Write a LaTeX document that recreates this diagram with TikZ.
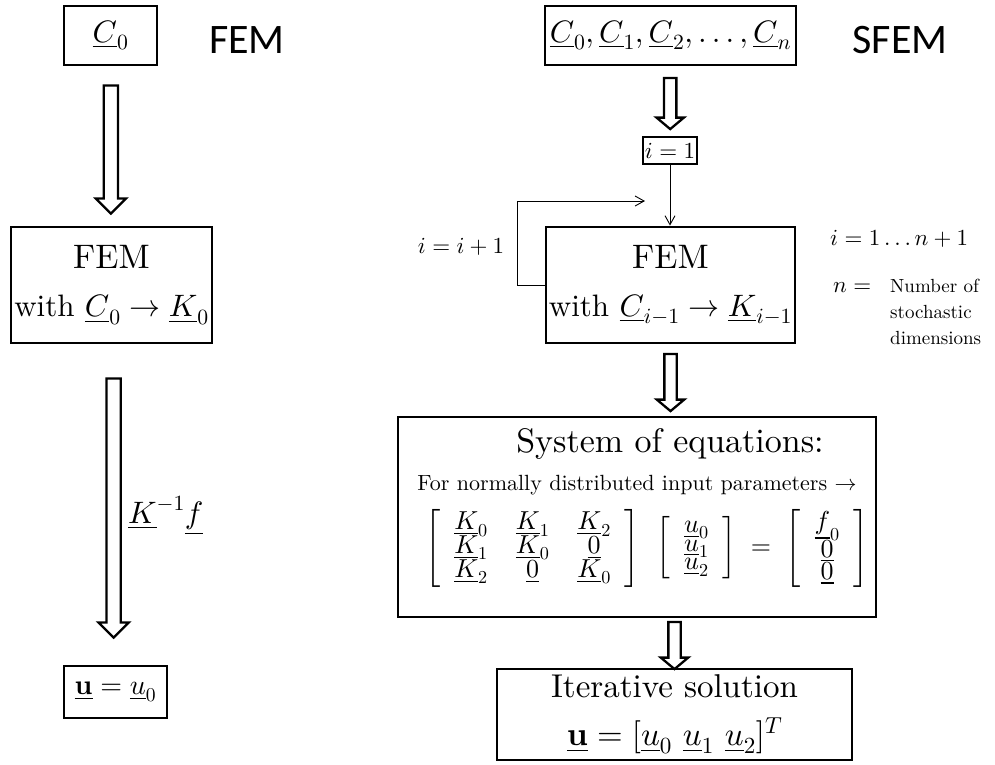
\documentclass[tikz,border=0pt]{standalone}
\usepackage{amsmath,amssymb}
\usepackage[no-math]{fontspec}
\setmainfont{lmroman10-regular.otf}[BoldFont=lmroman10-bold.otf, ItalicFont=lmroman10-italic.otf]
\newfontfamily\calibrifont{Carlito}
% keep the 10pt designs at every size
\DeclareFontShape{OML}{cmm}{m}{it}{<->cmmi10}{}
\DeclareFontShape{OMS}{cmsy}{m}{n}{<->cmsy10}{}
\DeclareFontShape{OT1}{cmr}{m}{n}{<->cmr10}{}
\DeclareFontShape{OT1}{cmr}{bx}{n}{<->cmbx10}{}
\usepackage{tikz}
\usetikzlibrary{arrows.meta,shapes.arrows,calc,positioning}

\begin{document}
\begin{tikzpicture}[x=1pt,y=-1pt,
box/.style={draw, line width=2.8pt, align=center, inner sep=0pt},
bigfont/.style={font=\fontsize{31}{48}\selectfont},
midfont/.style={font=\fontsize{23}{28}\selectfont},
sanslabel/.style={font=\calibrifont\fontsize{42}{50}\selectfont, anchor=base, inner sep=0pt},
fatarrow/.style={single arrow, draw, line width=2.3pt, shape border rotate=270, inner sep=6pt, single arrow head extend=8pt, single arrow tip angle=90},
slimarrow/.style={fatarrow, inner sep=5pt, single arrow head extend=7.5pt, single arrow tip angle=100},
flow/.style={line width=0.9pt, -{Straight Barb[length=9pt,width=10pt]}}]
\useasboundingbox (0,0) rectangle (995,764);

% plain FEM
\node[box, bigfont, minimum width=93pt, minimum height=59pt] (c0) at (110.5,35.5) {$\underline{C}_0$};
\node[sanslabel] (femtitle) at (247,53) {FEM};
\node[box, bigfont, minimum width=201pt, minimum height=116pt] (fem0) at (111.5,285) {{\fontsize{34}{40}\selectfont FEM}\\with $\underline{C}_0\rightarrow\underline{K}_0$};
\node[box, font=\fontsize{28}{34}\selectfont, minimum width=103pt, minimum height=52pt] (u0) at (115.5,692) {$\underline{\mathbf{u}}=\underline{u}_0$};
\path (c0) -- node[fatarrow, minimum height=128pt] (a1) {} (fem0);
\path (fem0) -- node[fatarrow, minimum height=259pt] (a2) {} (u0);
\node[bigfont, anchor=base west, inner sep=0pt] (kinv) at (128,523) {$\underline{K}^{-1}\underline{f}$};

% stochastic FEM
\node[box, bigfont, minimum width=251pt, minimum height=59pt] (cn) at (670.5,35.5) {$\underline{C}_0,\underline{C}_1,\underline{C}_2,\ldots,\underline{C}_n$};
\node[sanslabel] (sfemtitle) at (900,53) {SFEM};
\node[box, midfont, minimum width=54pt, minimum height=27pt] (i1) at (670,150.5) {$i=1$};
\node[box, bigfont, minimum width=249pt, minimum height=116pt] (femi) at (670.5,285) {{\fontsize{34}{40}\selectfont FEM}\\with $\underline{C}_{i-1}\rightarrow\underline{K}_{i-1}$};
\node[box, minimum width=478pt, minimum height=200pt] (sys) at (637,517) {};
\node[box, font=\fontsize{33}{48}\selectfont, minimum width=355pt, minimum height=91pt] (iter) at (674.5,714.5) {Iterative solution\\$\underline{\mathbf{u}}=[\underline{u}_0\ \underline{u}_1\ \underline{u}_2]^T$};

% inside the system box
\node[font=\fontsize{34}{40}\selectfont, anchor=base, inner sep=0pt] (systitle) at (670,452) {System of equations:};
\node[font=\fontsize{22}{26}\selectfont, anchor=base, inner sep=0pt] (sysnote) at (637,490) {For normally distributed input parameters $\rightarrow$};
\node[font=\fontsize{26}{30}\selectfont, inner sep=0pt] (sysmat) at (647,548) {\setlength{\arraycolsep}{14pt}\renewcommand{\arraystretch}{0.6}%
$\left[\begin{array}{ccc}
\underline{K}_0 & \underline{K}_1 & \underline{K}_2\\
\underline{K}_1 & \underline{K}_0 & \underline{0}\\
\underline{K}_2 & \underline{0} & \underline{K}_0
\end{array}\right]\hspace{12pt}\left[\begin{array}{c}
\underline{u}_0\\ \underline{u}_1\\ \underline{u}_2
\end{array}\right]\;=\;\left[\begin{array}{c}
\underline{f}_0\\ \underline{0}\\ \underline{0}
\end{array}\right]$};

% loop labels
\node[midfont, anchor=base, inner sep=0pt] (iinc) at (461,253) {$i=i+1$};
\node[midfont, anchor=base west, inner sep=0pt] (irange) at (830,245) {$i=1\ldots n+1$};
\node[midfont, anchor=base west, inner sep=0pt] (ndimeq) at (833,292) {$n=$};
\node[font=\fontsize{19}{26}\selectfont, anchor=base west, inner sep=0pt] (ndimtxt) at (890,292) {\begin{tabular}[t]{@{}l@{}}Number of\\stochastic\\dimensions\end{tabular}};

% arrows
\path (cn) -- node[slimarrow, minimum height=51pt] (a3) {} (i1);
\path (femi) -- node[slimarrow, minimum height=57pt] (a4) {} (femi |- sys.north);
\path (sys.south -| iter) -- node[slimarrow, minimum height=47pt] (a5) {} (iter);
\coordinate (loopend) at (645,201);
\draw[flow] (i1) -- (i1 |- femi.north);
\draw[flow] (femi.west) -- ++(-27,0) |- (loopend);
\end{tikzpicture}
\end{document}
